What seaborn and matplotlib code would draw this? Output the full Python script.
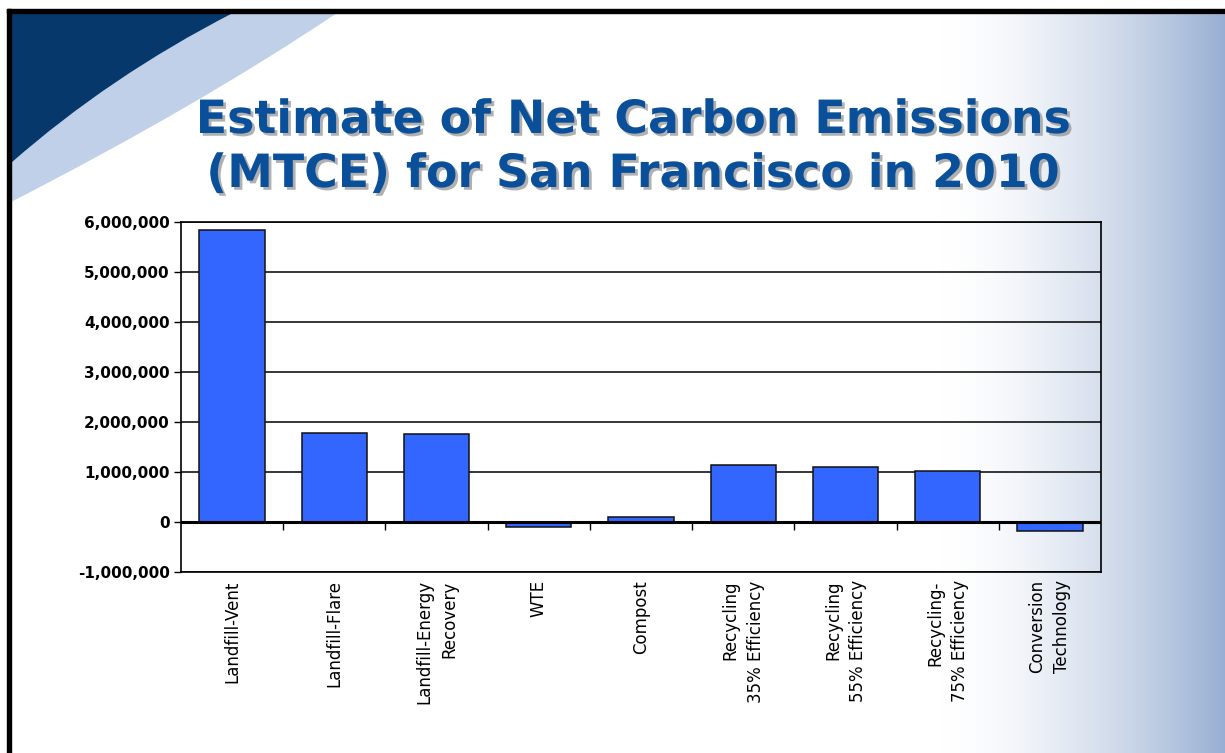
import numpy as np
import matplotlib
matplotlib.use("Agg")
import matplotlib.pyplot as plt
import matplotlib.patheffects as pe
from matplotlib.path import Path
from matplotlib.patches import PathPatch, Rectangle
import seaborn as sns

# ---- data ----
categories = [
    "Landfill-Vent",
    "Landfill-Flare",
    "Landfill-Energy\nRecovery",
    "WTE",
    "Compost",
    "Recycling\n35% Efficiency",
    "Recycling\n55% Efficiency",
    "Recycling-\n75% Efficiency",
    "Conversion\nTechnology",
]
emissions = [5850000, 1790000, 1760000, -105000, 110000,
             1150000, 1100000, 1030000, -180000]
y_ticks = [-1000000, 0, 1000000, 2000000, 3000000, 4000000, 5000000, 6000000]
y_tick_labels = [f"{v:,}" for v in y_ticks]
title_lines = ["Estimate of Net Carbon Emissions",
               "(MTCE) for San Francisco in 2010"]

W, H = 1225, 753
sns.set_style("white")
plt.rcParams["font.family"] = ["DejaVu Sans"]
plt.rcParams["text.color"] = "black"
plt.rcParams["xtick.color"] = "black"
plt.rcParams["ytick.color"] = "black"
plt.rcParams["xtick.labelcolor"] = "black"
plt.rcParams["ytick.labelcolor"] = "black"

fig = plt.figure(figsize=(W / 100, H / 100), dpi=100)
fig.patch.set_facecolor("white")

# ---- slide background ----
bg = fig.add_axes([0, 0, 1, 1], zorder=0)
bg.set_xlim(0, W)
bg.set_ylim(H, 0)
bg.axis("off")

xs = np.arange(W)
t = np.clip((xs - 940) / (W - 940), 0, 1) ** 1.6
edge_rgb = np.array([152, 175, 211]) / 255
row = (1 - t)[:, None] * np.ones(3) + t[:, None] * edge_rgb
img = np.repeat(row[None, :, :], H, axis=0)
bg.imshow(img, extent=(0, W, H, 0), aspect="auto", zorder=0,
          interpolation="bilinear")
bg.add_patch(Rectangle((0, 0), W, 13, color="white", zorder=1))
bg.add_patch(Rectangle((0, 0), 11, H, color="white", zorder=1))

# corner swoosh: light band then dark wedge
light = Path(
    [(233, 13), (337, 13), (200, 105), (11, 202), (11, 163), (110, 76), (233, 13)],
    [Path.MOVETO, Path.LINETO, Path.CURVE3, Path.CURVE3, Path.LINETO,
     Path.CURVE3, Path.CURVE3],
)
bg.add_patch(PathPatch(light, facecolor="#BFD0E8", edgecolor="none", zorder=2))
dark = Path(
    [(11, 13), (233, 13), (110, 76), (11, 163), (11, 13)],
    [Path.MOVETO, Path.LINETO, Path.CURVE3, Path.CURVE3, Path.CLOSEPOLY],
)
bg.add_patch(PathPatch(dark, facecolor="#06386C", edgecolor="none", zorder=3))

# frame lines
bg.add_patch(Rectangle((7, 9), W - 7, 4, color="black", zorder=4))
bg.add_patch(Rectangle((7, 9), 4, H - 9, color="black", zorder=4))

# ---- title ----
shadow = [pe.SimplePatchShadow(offset=(2, -2), shadow_rgbFace="#8f8f8f", alpha=0.7),
          pe.Normal()]
for line, base in zip(title_lines, [133, 187]):
    fig.text(634 / W, 1 - base / H, line, ha="center", va="baseline",
             fontsize=33, fontweight="bold", color="#0A4F99",
             path_effects=shadow)

# ---- chart ----
ax = fig.add_axes([181 / W, 1 - 572 / H, (1101 - 181) / W, (572 - 222) / H],
                  zorder=2)
ax.patch.set_alpha(0)

sns.barplot(x=categories, y=emissions, color="#3366FF", saturation=1,
            edgecolor="#111111", linewidth=1.1, width=0.64, ax=ax, zorder=3)

ax.set_xlim(-0.5, len(categories) - 0.5)
ax.set_ylim(y_ticks[0], y_ticks[-1])
ax.set_yticks(y_ticks)
ax.set_yticklabels(y_tick_labels, fontsize=11, fontweight="bold")
ax.yaxis.grid(True, color="black", linewidth=1.1)
ax.xaxis.grid(False)
ax.set_axisbelow(True)
ax.axhline(0, color="black", linewidth=2.2, zorder=4)

for s in ax.spines.values():
    s.set_visible(True)
    s.set_color("black")
    s.set_linewidth(1.2)

ax.tick_params(axis="y", left=True, direction="out", length=5, width=1,
               color="black", pad=3)
ax.tick_params(axis="x", bottom=False, length=0, pad=6)
ax.set_xticks(range(len(categories)))
ax.set_xticklabels(categories, rotation=90, ha="center", va="top",
                   fontsize=12, multialignment="right", linespacing=1.5)
ax.set_xlabel("")
ax.set_ylabel("")

# category separators hanging from the zero line
zero_frac = (0 - y_ticks[0]) / (y_ticks[-1] - y_ticks[0])
sep = ax.secondary_xaxis(zero_frac)
sep.set_xticks(np.arange(0.5, len(categories) - 0.5, 1))
sep.set_xticklabels([])
sep.tick_params(direction="out", length=6, width=1, color="black")
for s in sep.spines.values():
    s.set_visible(False)

fig.savefig("out.png", dpi=100, facecolor="white")
